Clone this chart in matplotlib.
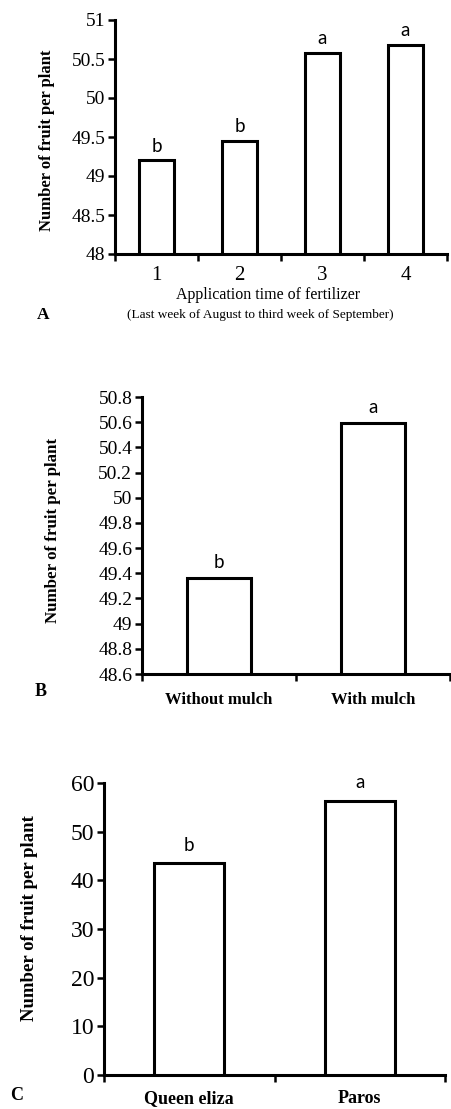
import matplotlib.pyplot as plt
from matplotlib.ticker import FixedLocator, NullFormatter

# dados
tempos_aplicacao = ["1", "2", "3", "4"]
frutos_aplicacao = [49.2, 49.45, 50.58, 50.68]
letras_aplicacao = ["b", "b", "a", "a"]

mulch = ["Without mulch", "With mulch"]
frutos_mulch = [49.36, 50.59]
letras_mulch = ["b", "a"]

cultivares = ["Queen eliza", "Paros"]
frutos_cultivar = [43.5, 56.4]
letras_cultivar = ["b", "a"]

SERIF = "Liberation Serif"
SANS = "Lato"

W, H = 451, 1109
fig = plt.figure(figsize=(W / 100, H / 100), dpi=100)


def px_ax(x0, y0, x1, y1):
    # caixa em pixels -> fração da figura
    return fig.add_axes([x0 / W, 1 - y1 / H, (x1 - x0) / W, (y1 - y0) / H])


def painel(ax, cats, vals, letras, ylim, ystep, ylabels, bold_x, fs_tick, fs_x, pad_x, offset):
    n = len(cats)
    x = list(range(n))
    base = ylim[0]
    ax.bar(x, [v - base for v in vals], width=0.41, bottom=base, color="white",
           edgecolor="black", linewidth=2.2, zorder=3)
    ax.set_xlim(-0.5, n - 0.5)
    ax.set_ylim(*ylim)
    yt = [ylim[0] + i * ystep for i in range(len(ylabels))]
    ax.set_yticks(yt)
    ax.set_yticklabels(ylabels, family=SERIF, fontsize=fs_tick)
    ax.xaxis.set_major_locator(FixedLocator([i - 0.5 for i in range(n + 1)]))
    ax.xaxis.set_major_formatter(NullFormatter())
    ax.xaxis.set_minor_locator(FixedLocator(x))
    ax.set_xticklabels(cats, minor=True, family=SERIF, fontsize=fs_x,
                       fontweight="bold" if bold_x else "normal")
    ax.tick_params(axis="x", which="minor", length=0, pad=pad_x)
    ax.tick_params(axis="both", which="major", length=5, width=1.8, direction="out")
    ax.tick_params(axis="y", pad=2)
    for s in ["top", "right"]:
        ax.spines[s].set_visible(False)
    for s in ["left", "bottom"]:
        ax.spines[s].set_linewidth(2.2)
    for xi, v, l in zip(x, vals, letras):
        ax.annotate(l, (xi, v), xytext=(0, offset), textcoords="offset points",
                    ha="center", va="bottom", family=SANS, fontsize=13.5)


# painel A
axA = px_ax(115, 20, 447, 254)
painel(axA, tempos_aplicacao, frutos_aplicacao, letras_aplicacao, (48, 51), 0.5,
       ["48", "48.5", "49", "49.5", "50", "50.5", "51"], False, 14, 15, 9, 4)
fig.text(268 / W, 1 - 295 / H, "Application time of fertilizer", family=SERIF,
         fontsize=11.5, ha="center", va="center")
fig.text(260 / W, 1 - 315 / H, "(Last week of August to third week of September)",
         family=SERIF, fontsize=9.5, ha="center", va="center")
fig.text(43 / W, 1 - 315 / H, "A", family=SERIF, fontweight="bold", fontsize=12.5,
         ha="center", va="center")
fig.text(47 / W, 1 - 140 / H, "Number of fruit per plant", family=SERIF,
         fontweight="bold", fontsize=12, rotation=90, ha="center", va="center")

# painel B
axB = px_ax(142, 397, 450, 674)
painel(axB, mulch, frutos_mulch, letras_mulch, (48.6, 50.8), 0.2,
       ["48.6", "48.8", "49", "49.2", "49.4", "49.6", "49.8", "50", "50.2",
        "50.4", "50.6", "50.8"], True, 14, 12, 13, 5)
fig.text(41 / W, 1 - 692 / H, "B", family=SERIF, fontweight="bold", fontsize=13,
         ha="center", va="center")
fig.text(53 / W, 1 - 530 / H, "Number of fruit per plant", family=SERIF,
         fontweight="bold", fontsize=12.2, rotation=90, ha="center", va="center")

# painel C
axC = px_ax(104, 783, 445, 1075)
painel(axC, cultivares, frutos_cultivar, letras_cultivar, (0, 60), 10,
       ["0", "10", "20", "30", "40", "50", "60"], True, 17, 13, 11, 7)
fig.text(17 / W, 1 - 1095 / H, "C", family=SERIF, fontweight="bold", fontsize=13,
         ha="center", va="center")
fig.text(30 / W, 1 - 918 / H, "Number of fruit per plant", family=SERIF,
         fontweight="bold", fontsize=13.5, rotation=90, ha="center", va="center")

fig.savefig("out.png", dpi=100)
